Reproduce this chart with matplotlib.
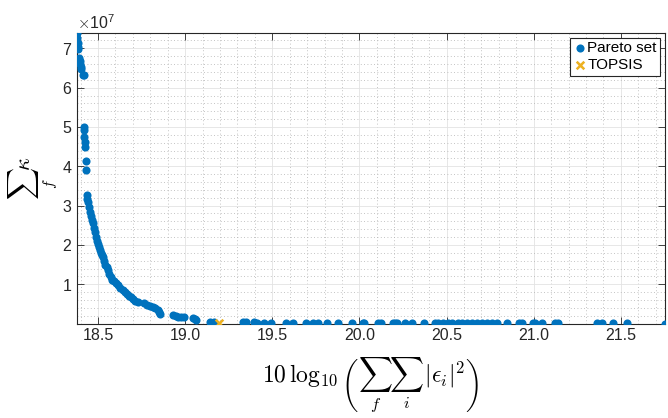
import numpy as np
import matplotlib.pyplot as plt
from matplotlib.ticker import MultipleLocator, ScalarFormatter

plt.rcParams['font.family'] = ['Liberation Sans', 'DejaVu Sans']
plt.rcParams['mathtext.fontset'] = 'cm'

# Pareto front: error (dB) vs. sum of kappa
err_top = [18.380, 18.382, 18.385, 18.386, 18.388, 18.392, 18.395, 18.398, 18.401, 18.404,
           18.412, 18.420]
kap_top = [7.39, 7.26, 7.14, 7.04, 6.98, 6.76, 6.68, 6.60, 6.53, 6.48,
           6.32, 6.31]

err_mid = [18.418, 18.420, 18.422, 18.424, 18.426, 18.430, 18.432]
kap_mid = [5.00, 4.92, 4.75, 4.62, 4.49, 4.13, 3.90]

err_curve = [18.437, 18.440, 18.443, 18.448, 18.453, 18.459, 18.465, 18.471, 18.477, 18.483,
             18.489, 18.495, 18.500, 18.506, 18.512, 18.518, 18.524, 18.529, 18.536, 18.543,
             18.550, 18.557, 18.565, 18.574, 18.582, 18.590, 18.603, 18.615, 18.628, 18.643,
             18.655, 18.668, 18.680, 18.689, 18.700, 18.710, 18.729, 18.763, 18.780, 18.800,
             18.815, 18.830, 18.844, 18.850, 18.855, 18.930, 18.945, 18.958, 18.975, 18.993,
             19.044, 19.055, 19.061]
kap_curve = [3.27, 3.18, 3.08, 2.96, 2.85, 2.74, 2.64, 2.55, 2.44, 2.32,
             2.20, 2.10, 2.03, 1.95, 1.86, 1.79, 1.74, 1.69, 1.60, 1.50,
             1.43, 1.36, 1.27, 1.18, 1.12, 1.08, 1.03, 0.97, 0.91, 0.85,
             0.80, 0.75, 0.71, 0.67, 0.62, 0.58, 0.55, 0.52, 0.48, 0.45,
             0.42, 0.40, 0.34, 0.29, 0.24, 0.22, 0.19, 0.17, 0.165, 0.16,
             0.14, 0.12, 0.09]

err_tail = [19.141, 19.164, 19.330, 19.348, 19.393, 19.411, 19.451, 19.491, 19.577, 19.617,
            19.691, 19.731, 19.760, 19.812, 19.875, 19.955, 20.018, 20.029, 20.104, 20.121,
            20.190, 20.207, 20.218, 20.264, 20.304, 20.373, 20.436, 20.453, 20.482, 20.510,
            20.533, 20.568, 20.590, 20.619, 20.648, 20.676, 20.705, 20.734, 20.762, 20.791,
            20.848, 20.917, 20.934, 20.997, 21.009, 21.049, 21.123, 21.140, 21.364, 21.392,
            21.455, 21.535, 21.753]
kap_tail = [0.050, 0.045, 0.032, 0.031, 0.028, 0.027, 0.025, 0.023, 0.020, 0.019,
            0.017, 0.016, 0.015, 0.014, 0.013, 0.012, 0.011, 0.011, 0.010, 0.010,
            0.009, 0.009, 0.009, 0.008, 0.008, 0.007, 0.007, 0.007, 0.006, 0.006,
            0.006, 0.006, 0.005, 0.005, 0.005, 0.005, 0.005, 0.004, 0.004, 0.004,
            0.004, 0.003, 0.003, 0.003, 0.003, 0.003, 0.002, 0.002, 0.002, 0.002,
            0.002, 0.002, 0.001]

topsis_err = [19.193]
topsis_kap = [0.02]

err = np.array(err_top + err_mid + err_curve + err_tail)
kap = np.array(kap_top + kap_mid + kap_curve + kap_tail) * 1e7

fig = plt.figure(figsize=(6.68, 4.18), dpi=100)
ax = fig.add_axes([0.1153, 0.226, 0.8802, 0.695])

ax.scatter(err, kap, s=34, color='#0072BD', label='Pareto set', zorder=3, linewidths=0)
ax.scatter(topsis_err, np.array(topsis_kap) * 1e7, s=30, marker='x', color='#EDB120',
           linewidths=1.8, label='TOPSIS', zorder=4)

ax.set_xlim(err.min(), err.max())
ax.set_ylim(kap.min(), kap.max())

ax.xaxis.set_major_locator(MultipleLocator(0.5))
ax.xaxis.set_minor_locator(MultipleLocator(0.1))
ax.yaxis.set_major_locator(MultipleLocator(1e7))
ax.yaxis.set_minor_locator(MultipleLocator(2e6))

fmt = ScalarFormatter(useMathText=True)
fmt.set_powerlimits((0, 0))
ax.yaxis.set_major_formatter(fmt)
ax.yaxis.get_offset_text().set_fontsize(11.5)

ax.grid(True, which='major', color='#e3e3e3', linewidth=0.6, linestyle='-')
ax.grid(True, which='minor', color='#b0b0b0', linewidth=0.6, linestyle=(0, (1, 3)))
ax.set_axisbelow(True)

ax.tick_params(which='major', direction='in', top=True, right=True, length=5,
               width=0.6, labelsize=11.5, colors='#262626')
ax.tick_params(which='minor', length=0)
for sp in ax.spines.values():
    sp.set_color('#262626')
    sp.set_linewidth(0.8)

ax.set_xlabel(r'$10\,\log_{10}\left(\sum_f\sum_i\,|\epsilon_i|^2\right)$', fontsize=17, labelpad=9)
# y label placed by hand so the big sum sign is not clipped
fig.text(0.05, 0.575, r'$\sum_f\kappa$', fontsize=16, rotation=90,
         ha='center', va='center')

leg = ax.legend(loc='upper right', fontsize=11, handletextpad=0.1, handlelength=0.8,
                borderpad=0.25, labelspacing=0.15, fancybox=False, framealpha=1,
                edgecolor='#262626', borderaxespad=0.3)
leg.get_frame().set_linewidth(0.8)

fig.savefig('out.png', dpi=100)
